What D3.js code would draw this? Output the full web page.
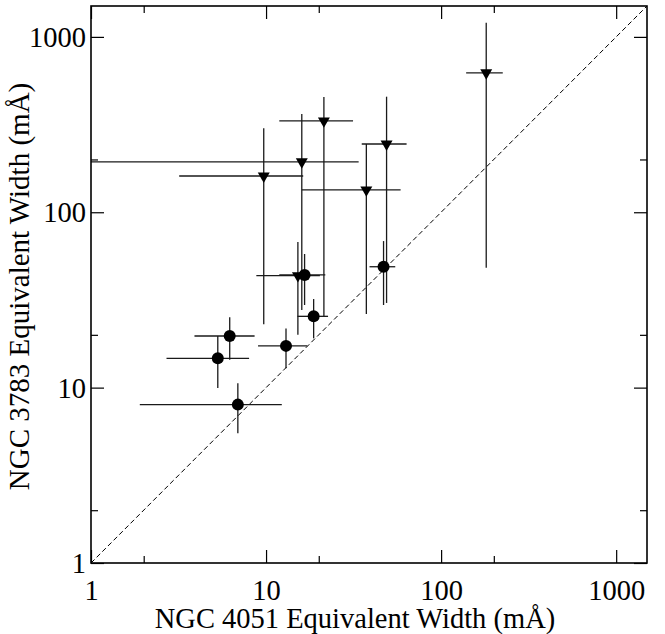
<!DOCTYPE html>
<html>
<head>
<meta charset="utf-8">
<script src="https://cdn.jsdelivr.net/npm/d3@7"></script>
<style>
  html, body { margin: 0; padding: 0; background: #fff; }
  svg { display: block; }
  svg text { font-family: "Liberation Serif", "Times New Roman", Times, "DejaVu Serif", serif !important; fill: #000; }
</style>
</head>
<body>
<svg id="chart" width="665" height="634"></svg>
<script>
// ---- Data (equivalent widths, mÅ) ----
// Detections (filled circles)
const detX    = [6.9, 5.3, 6.2, 13.0, 18.7, 16.6, 46.9];
const detY    = [8.0, 14.7, 19.7, 17.3, 25.5, 43.9, 48.9];
const detXLo  = [1.9, 2.7, 3.9, 9.0, 15.1, 11.9, 39.0];
const detXHi  = [12.3, 8.0, 8.6, 17.2, 22.6, 21.8, 54.7];
const detYLo  = [5.5, 9.95, 14.4, 12.9, 19.1, 29.6, 29.6];
const detYHi  = [10.6, 19.7, 25.2, 21.7, 32.0, 57.8, 68.5];

// Upper limits (down triangles)
const limX    = [15.2, 9.7, 16.0, 21.4, 37.4, 48.8, 181];
const limY    = [43.5, 161, 194, 332, 134, 245, 624];
const limXLo  = [8.8, 3.19, 0.5, 11.9, 16.0, 35.2, 139];
const limXHi  = [20.3, 16.3, 33.8, 31.4, 58.7, 63.5, 225];
const limYLo  = [20.0, 23.0, 27.7, 25.3, 26.3, 30.4, 48.3];
const limYHi  = [67.6, 301, 363, 454, 245, 456, 1203];

const majorTicks = [1, 10, 100, 1000];
const minorTicks = [2, 20, 200];
const domainXY = [1, 1500];
const xTitle = "NGC 4051 Equivalent Width (mÅ)";
const yTitle = "NGC 3783 Equivalent Width (mÅ)";

// ---- Layout ----
const L = 91, R = 647, T = 6, B = 563;
const FONT = '"Liberation Serif", "Times New Roman", Times, "DejaVu Serif", serif';
const svg = d3.select("#chart");
const x = d3.scaleLog().domain(domainXY).range([L, R]);
const y = d3.scaleLog().domain(domainXY).range([B, T]);

svg.append("defs").append("clipPath").attr("id", "clip")
  .append("rect").attr("x", L).attr("y", T).attr("width", R - L).attr("height", B - T);

const plot = svg.append("g").attr("clip-path", "url(#clip)");

// dashed 1:1 line
plot.append("line")
  .attr("x1", x(domainXY[0])).attr("y1", y(domainXY[0]))
  .attr("x2", x(domainXY[1])).attr("y2", y(domainXY[1]))
  .attr("stroke", "#000").attr("stroke-width", 1)
  .attr("stroke-dasharray", "5,3");

const dets = detX.map((d, i) => ({x: d, y: detY[i], xl: detXLo[i], xh: detXHi[i], yl: detYLo[i], yh: detYHi[i]}));
const lims = limX.map((d, i) => ({x: d, y: limY[i], xl: limXLo[i], xh: limXHi[i], yl: limYLo[i], yh: limYHi[i]}));
const all = lims.concat(dets);

const eb = plot.append("g").attr("stroke", "#1a1a1a").attr("stroke-width", 1.3);
eb.selectAll("line.h").data(all).join("line").attr("class", "h")
  .attr("x1", d => x(d.xl)).attr("x2", d => x(d.xh))
  .attr("y1", d => y(d.y)).attr("y2", d => y(d.y));
eb.selectAll("line.v").data(all).join("line").attr("class", "v")
  .attr("x1", d => x(d.x)).attr("x2", d => x(d.x))
  .attr("y1", d => y(d.yl)).attr("y2", d => y(d.yh));

plot.append("g").selectAll("path").data(lims).join("path")
  .attr("d", d3.symbol(d3.symbolTriangle, 62))
  .attr("transform", d => `translate(${x(d.x)},${y(d.y)}) rotate(180)`)
  .attr("fill", "#000");

plot.append("g").selectAll("circle").data(dets).join("circle")
  .attr("cx", d => x(d.x)).attr("cy", d => y(d.y)).attr("r", 6)
  .attr("fill", "#000");

// ---- Axes ----
function styleAxis(g) {
  g.attr("font-family", null).attr("font-size", null);
  g.select(".domain").remove();
  g.selectAll("line").attr("stroke", "#000").attr("stroke-width", 1.2);
}
const fmt = d3.format("d");
// bottom
svg.append("g").attr("transform", `translate(0,${B})`)
  .call(d3.axisBottom(x).tickValues(majorTicks).tickFormat(fmt).tickSizeInner(-13).tickSizeOuter(0))
  .call(styleAxis)
  .call(g => g.selectAll("text").attr("y", 37).attr("dy", null).style("font-size", "28.5px").style("font-family", FONT));
svg.append("g").attr("transform", `translate(0,${B})`)
  .call(d3.axisBottom(x).tickValues(minorTicks).tickFormat("").tickSizeInner(-7).tickSizeOuter(0)).call(styleAxis);
// top
svg.append("g").attr("transform", `translate(0,${T})`)
  .call(d3.axisTop(x).tickValues(majorTicks).tickFormat("").tickSizeInner(-13).tickSizeOuter(0)).call(styleAxis);
svg.append("g").attr("transform", `translate(0,${T})`)
  .call(d3.axisTop(x).tickValues(minorTicks).tickFormat("").tickSizeInner(-7).tickSizeOuter(0)).call(styleAxis);
// left
svg.append("g").attr("transform", `translate(${L},0)`)
  .call(d3.axisLeft(y).tickValues(majorTicks).tickFormat(fmt).tickSizeInner(-13).tickSizeOuter(0))
  .call(styleAxis)
  .call(g => g.selectAll("text").attr("x", -5).attr("dy", "0.34em").style("font-size", "28.5px").style("font-family", FONT));
svg.append("g").attr("transform", `translate(${L},0)`)
  .call(d3.axisLeft(y).tickValues(minorTicks).tickFormat("").tickSizeInner(-7).tickSizeOuter(0)).call(styleAxis);
// right
svg.append("g").attr("transform", `translate(${R},0)`)
  .call(d3.axisRight(y).tickValues(majorTicks).tickFormat("").tickSizeInner(-13).tickSizeOuter(0)).call(styleAxis);
svg.append("g").attr("transform", `translate(${R},0)`)
  .call(d3.axisRight(y).tickValues(minorTicks).tickFormat("").tickSizeInner(-7).tickSizeOuter(0)).call(styleAxis);

// frame
svg.append("rect").attr("x", L).attr("y", T).attr("width", R - L).attr("height", B - T)
  .attr("fill", "none").attr("stroke", "#000").attr("stroke-width", 1.6);

// titles
svg.append("text").attr("x", 355).attr("y", 628).attr("text-anchor", "middle")
  .style("font-size", "28.5px").style("font-family", FONT).text(xTitle);
svg.append("text").attr("transform", `translate(29,${(T + B) / 2 + 2}) rotate(-90)`)
  .attr("text-anchor", "middle").style("font-size", "29px").style("font-family", FONT).text(yTitle);
</script>
</body>
</html>
